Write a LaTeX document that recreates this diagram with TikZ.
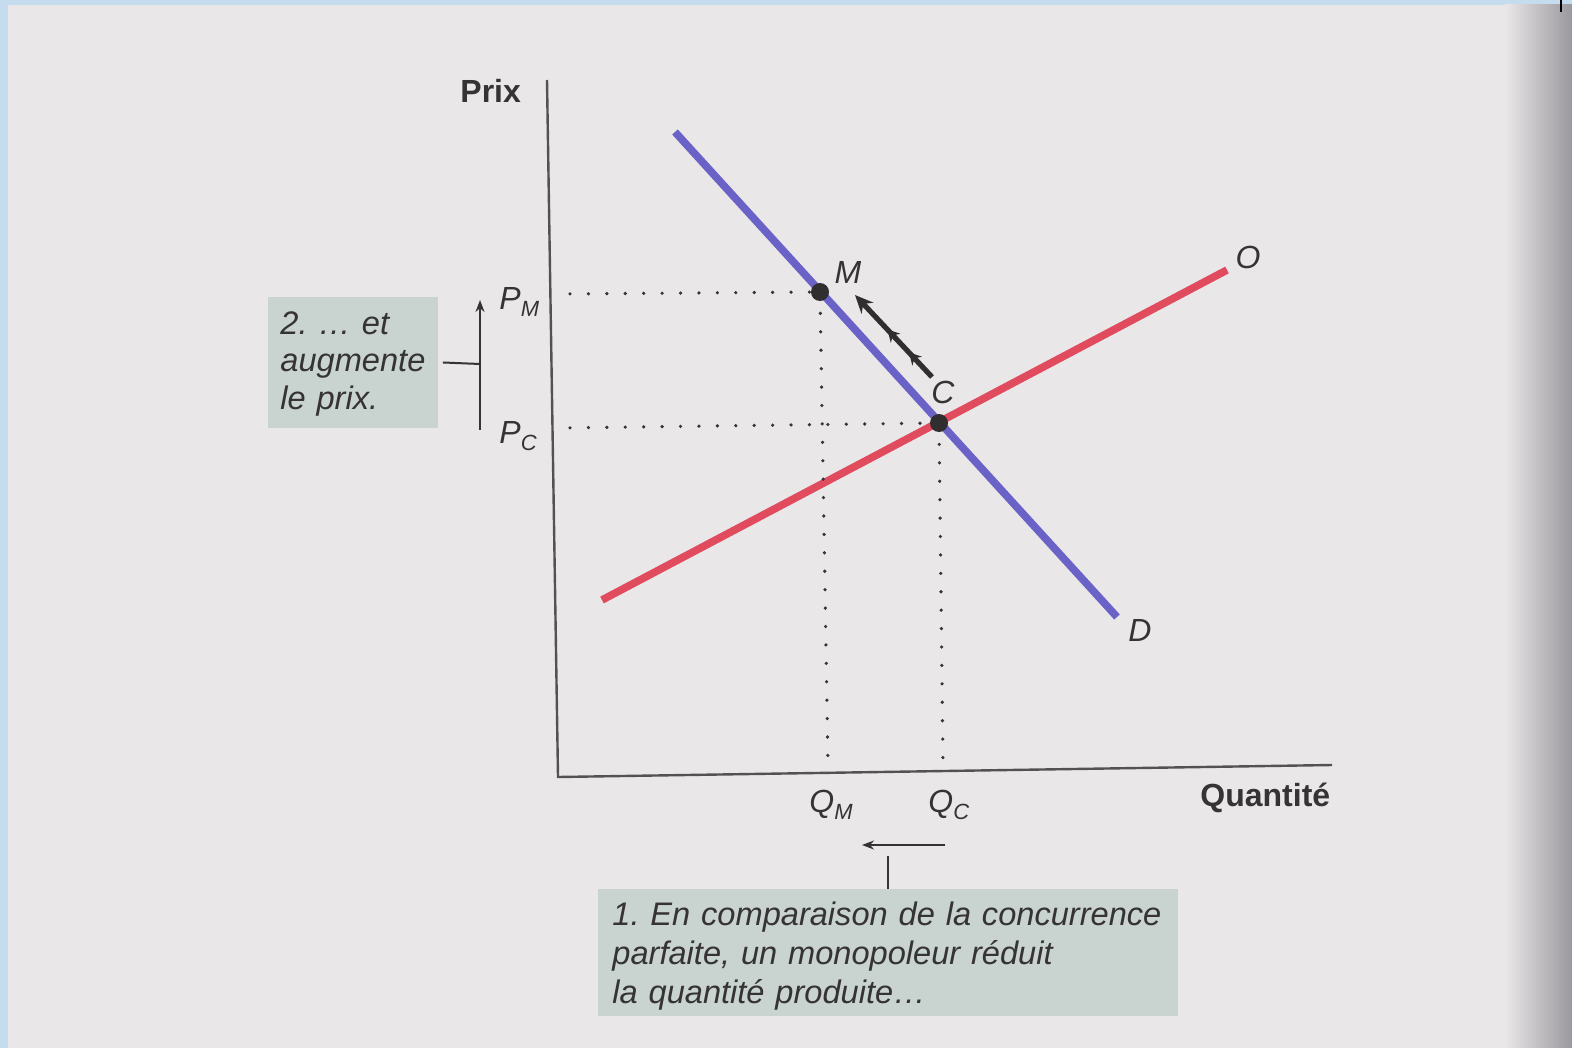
\documentclass[tikz,border=0pt]{standalone}
\usepackage{fontspec}
\setmainfont{Liberation Sans}
\usetikzlibrary{arrows.meta,decorations.markings}
\definecolor{pagebg}{HTML}{EAE7E9}
\definecolor{frameblue}{HTML}{C5DCEF}
\definecolor{edgegrey}{HTML}{9A989D}
\definecolor{demand}{HTML}{6A62C6}
\definecolor{supply}{HTML}{E04B5E}
\definecolor{ink}{HTML}{353333}
\definecolor{boxfill}{HTML}{C9D3D0}
\newcommand\lsub[1]{\raisebox{-0.45ex}{\fontsize{11}{12}\selectfont #1}}
\frenchspacing
\hyphenpenalty=10000
\begin{document}
\begin{tikzpicture}[x=0.5pt,y=-0.5pt,
  axis/.style={draw=ink!85, line width=1.2pt},
  curveD/.style={draw=demand, line width=3.8pt},
  curveS/.style={draw=supply, line width=3.8pt},
  dotpt/.style={circle, fill=ink!90!black, inner sep=0pt, minimum size=9pt},
  dots/.style={draw=ink, line width=1.8pt, line cap=round, dash pattern=on 0.01pt off 9.2pt, shorten <=6pt},
  lab/.style={text=ink, font=\fontsize{16}{18}\selectfont\itshape, inner sep=0pt},
  boldlab/.style={text=ink, font=\fontsize{16}{18}\selectfont\bfseries, inner sep=0pt},
  callout/.style={fill=boxfill, text=ink, align=left, inner ysep=6.2pt,
     font=\fontsize{16.3}{18.8}\selectfont\itshape},
  thinline/.style={draw=ink, line width=1pt},
  arr/.style={draw=ink, line width=1pt, -{Stealth[length=6pt,width=4.5pt]}},
  bigarr/.style={draw=ink!90!black, line width=2.6pt, -{Stealth[length=9pt,width=8pt]},
     postaction={decorate},
     decoration={markings,
       mark=at position 0.3 with {\arrow{Stealth[length=6pt,width=6.5pt]}},
       mark=at position 0.58 with {\arrow{Stealth[length=6pt,width=6.5pt]}}}}
]
\useasboundingbox (0,0) rectangle (1572,1048);
% background
\fill[frameblue] (0,0) rectangle (1572,1048);
\fill[pagebg] (8,5) rectangle (1572,1048);
\shade[left color=pagebg, right color=edgegrey] (1505,5) rectangle (1572,1048);
\draw[black, line width=1pt] (1561,0) -- (1561,12);

% axes
\coordinate (yTop) at (547,80);
\coordinate (origin) at (558,777);
\coordinate (xEnd) at (1332,765);
\draw[axis] (yTop) -- (origin) -- (xEnd);
\node[boldlab, anchor=base west] (prix) at (460,103) {Prix};
\node[boldlab, anchor=base west] (quant) at (1200,806) {Quantité};

% curves
\coordinate (dA) at (675,132);
\coordinate (dB) at (1117,617);
\coordinate (sA) at (602,600);
\coordinate (sB) at (1227,270);
\draw[curveD] (dA) -- (dB);
\draw[curveS] (sA) -- (sB);

% points
\node[dotpt] (M) at (820,292) {};
\node[dotpt] (C) at (939,423) {};

% dotted guides
\coordinate (pm) at (558,294);
\coordinate (pc) at (558,428);
\coordinate (qmB) at (828,766);
\coordinate (qcB) at (943,766);
\draw[dots] (pm) -- (M);
\draw[dots] (pc) -- (C);
\draw[dots] (M) -- (qmB);
\draw[dots] (C) -- (qcB);

% labels
\node[lab, anchor=base west] (PM) at (499,309) {P\lsub{M}};
\node[lab, anchor=base west] (PC) at (499,443) {P\lsub{C}};
\node[lab, anchor=base west] (QM) at (809,812) {Q\lsub{M}};
\node[lab, anchor=base west] (QC) at (928,812) {Q\lsub{C}};
\node[lab] (Mlab) at (848,272) {M};
\node[lab] (Clab) at (943,392) {C};
\node[lab] (Olab) at (1248,257) {O};
\node[lab] (Dlab) at (1140,630) {D};

% movement arrow C -> M
\coordinate (arrC) at (932,377);
\coordinate (arrM) at (855,295);
\draw[bigarr] (arrC) -- (arrM);

% callout 1 (price)
\node[callout, text width=73pt, inner xsep=6pt, inner ysep=5.8pt, anchor=north west] (box1) at (268,297)
  {\rule{0pt}{12.5pt}2. … et\\augmente\\le prix.};
\coordinate (pBot) at (480,430);
\coordinate (pTop) at (480,300);
\coordinate (pJoin) at (480,364);
\draw[arr] (pBot) -- (pTop);
\draw[thinline] ([xshift=2pt]box1.east) -- (pJoin);

% callout 2 (quantity)
\node[callout, text width=276pt, inner xsep=7pt, inner ysep=3pt, anchor=north west,
  font=\fontsize{16.3}{19.5}\selectfont\itshape] (box2) at (598,889)
  {\rule{0pt}{15pt}1. En comparaison de la concurrence\\parfaite, un monopoleur réduit\\la quantité produite…};
\coordinate (qR) at (945,845);
\coordinate (qL) at (862,845);
\coordinate (qv) at (888,856);
\draw[arr] (qR) -- (qL);
\draw[thinline] (qv) -- (qv |- box2.north);
\end{tikzpicture}
\end{document}
